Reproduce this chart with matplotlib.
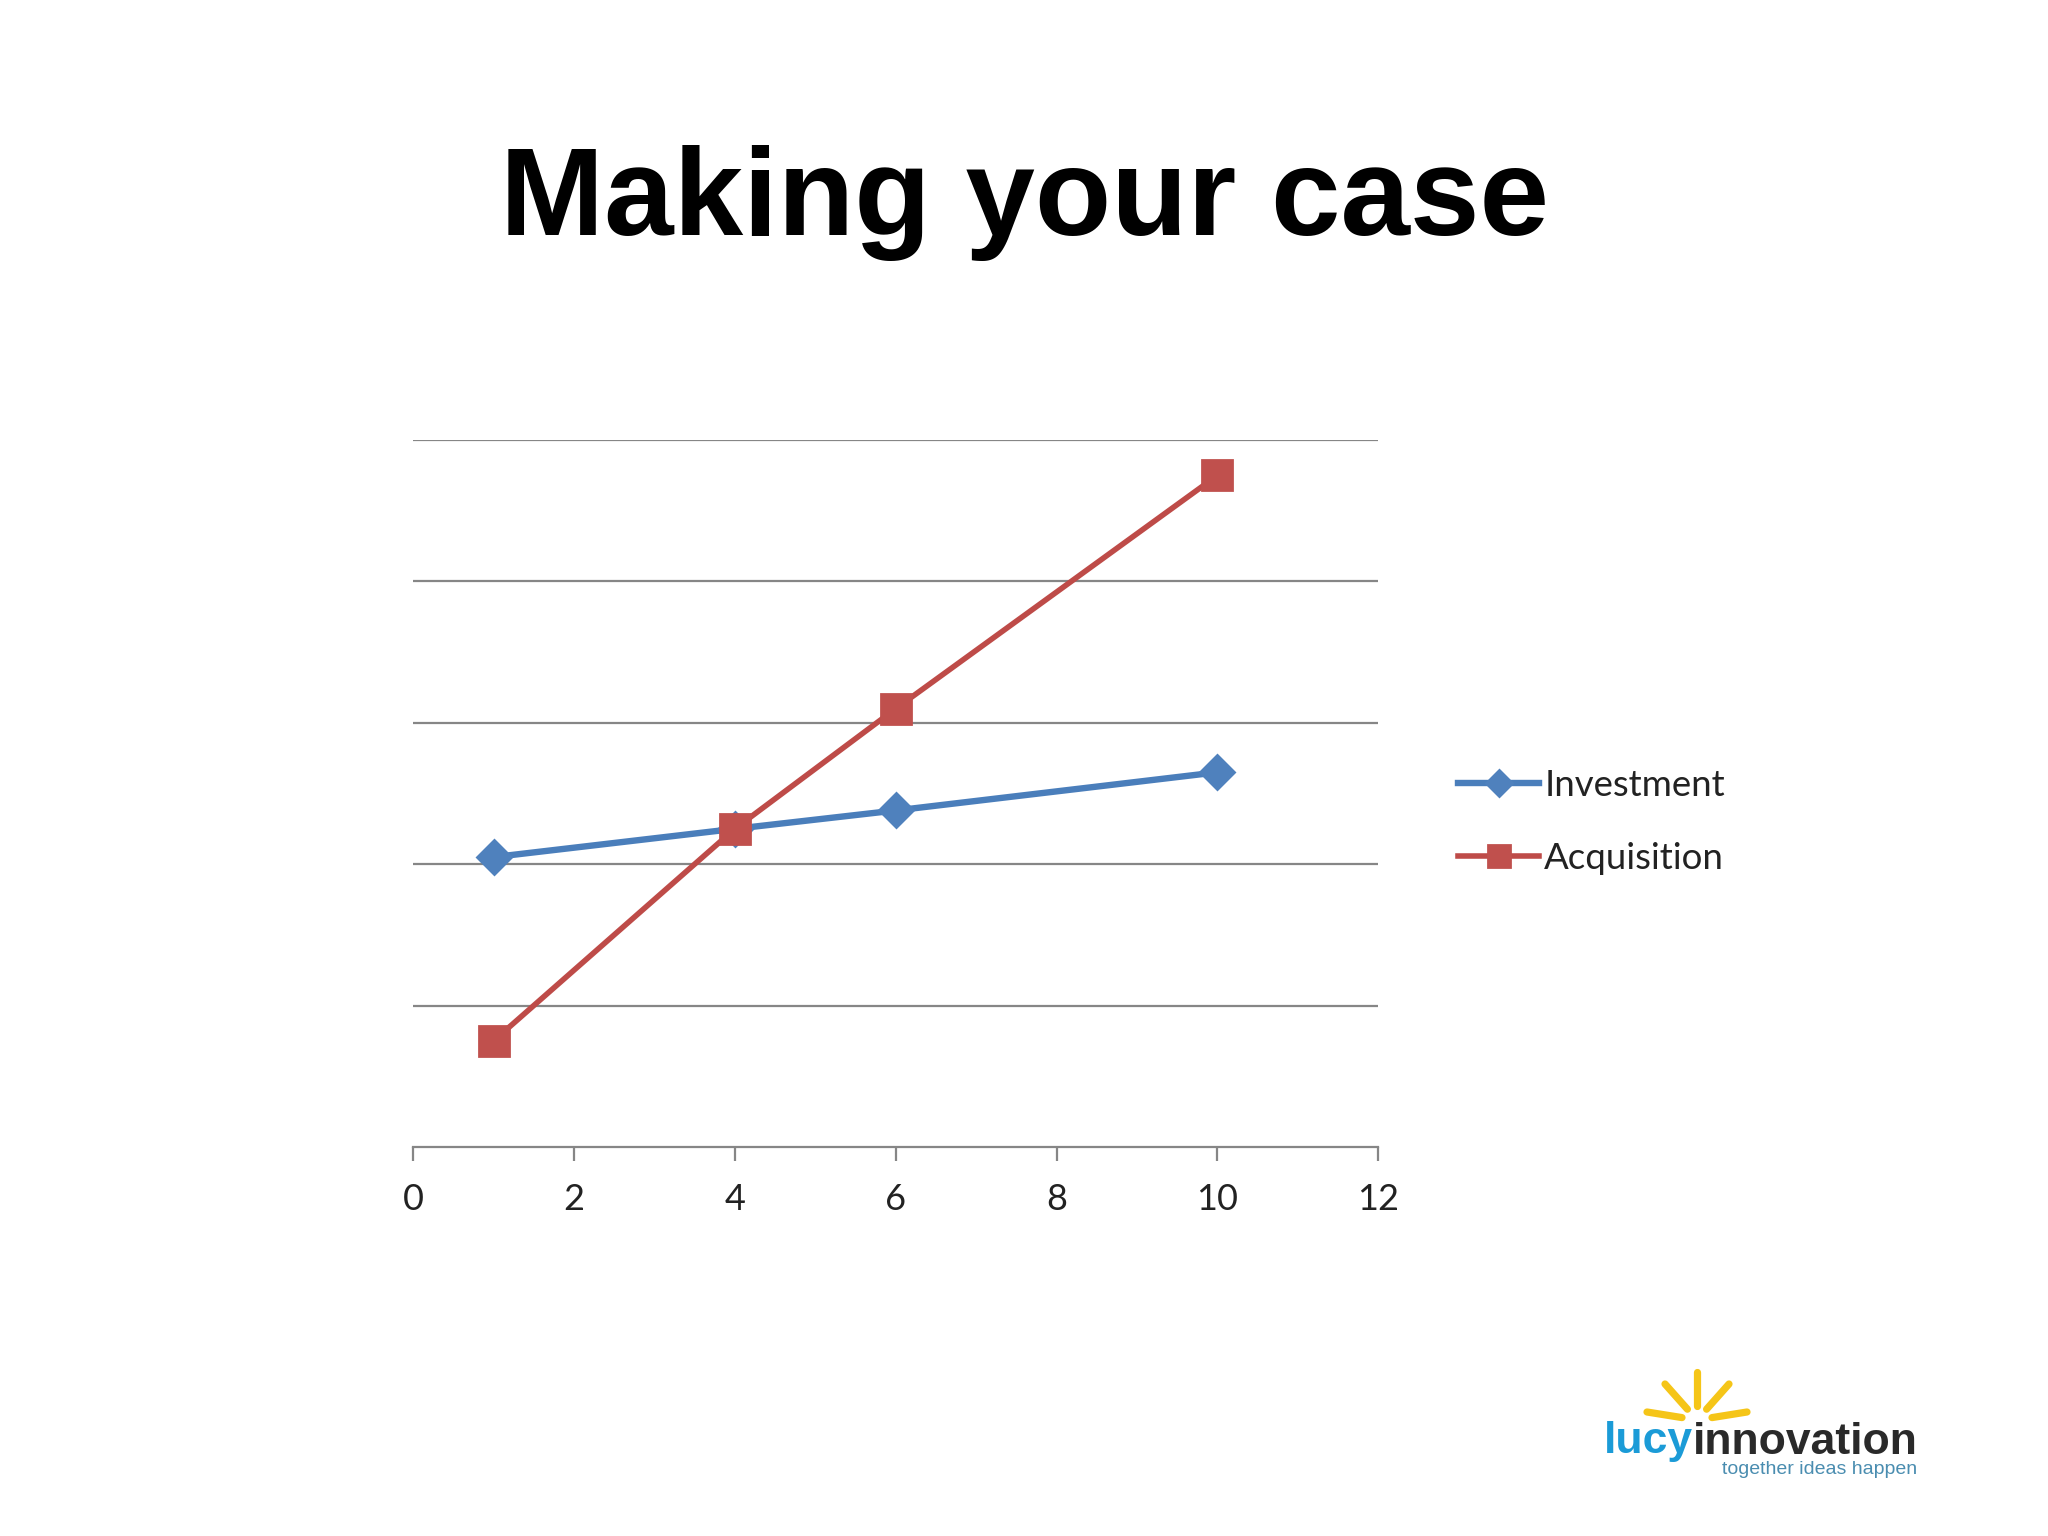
import matplotlib
matplotlib.use('Agg')
import matplotlib.pyplot as plt

# data
x_vals = [1, 4, 6, 10]
investment = [2.05, 2.25, 2.38, 2.65]
acquisition = [0.75, 2.25, 3.1, 4.75]
x_ticks = [0, 2, 4, 6, 8, 10, 12]
y_grid = [1, 2, 3, 4, 5]

title = 'Making your case'
series_names = ['Investment', 'Acquisition']

fig = plt.figure(figsize=(10.24, 7.68), dpi=200)
fig.patch.set_facecolor('white')

ax = fig.add_axes([0.2017, 0.2533, 0.4713, 0.4602])
ax.plot(x_vals, investment, color='#4A7EBB', lw=2.3, marker='D', ms=8.5,
        mfc='#4F81BD', mec='#4F81BD', label=series_names[0], zorder=3)
ax.plot(x_vals, acquisition, color='#BE4B48', lw=2.0, marker='s', ms=10.5,
        mfc='#C0504D', mec='#C0504D', label=series_names[1], zorder=4)

ax.set_xlim(0, 12)
ax.set_ylim(0, 5)
ax.set_xticks(x_ticks)
ax.set_xticklabels([str(t) for t in x_ticks], fontfamily='Lato', fontsize=13, color='#222222')
ax.set_yticks(y_grid)
ax.yaxis.grid(True, color='#868686', lw=0.8)
ax.tick_params(axis='y', left=False, labelleft=False)
ax.tick_params(axis='x', direction='out', length=5, width=0.8, color='#868686', pad=8)
for s in ['top', 'right', 'left']:
    ax.spines[s].set_visible(False)
ax.spines['bottom'].set_color('#868686')
ax.spines['bottom'].set_linewidth(0.8)
ax.set_axisbelow(True)

leg = ax.legend(loc='center left', bbox_to_anchor=(0.712, 0.465), bbox_transform=fig.transFigure,
                frameon=False, borderpad=0, borderaxespad=0, handlelength=2.2,
                handletextpad=0.15, labelspacing=1.08, markerscale=0.75,
                prop={'family': 'Lato', 'size': 13.2})
for t in leg.get_texts():
    t.set_color('#222222')

fig.text(0.5, 0.868, title, ha='center', va='center', fontsize=45, fontweight='bold',
         fontfamily='Liberation Sans', color='black')

# logo in the lower right corner
lg = fig.add_axes([0, 0, 1, 1])
lg.set_xlim(0, 2048)
lg.set_ylim(1536, 0)
lg.axis('off')
cx, cy = 1697, 1420
for dx, dy in [(0, -48), (-32, -36), (32, -36), (-50, -8), (50, -8)]:
    lg.plot([cx + dx * 0.3, cx + dx], [cy + dy * 0.3, cy + dy], color='#F5C518', lw=2.6,
            solid_capstyle='round')
t1 = lg.text(1604, 1442, 'lucy', color='#1B9BD7', fontsize=16, fontweight='bold',
             fontfamily='Liberation Sans', va='center', ha='left')
fig.canvas.draw()
bb = t1.get_window_extent().transformed(lg.transData.inverted())
lg.text(bb.x1, 1442, 'innovation', color='#2a2a2a', fontsize=16, fontweight='bold',
        fontfamily='Liberation Sans', va='center', ha='left')
lg.text(1917, 1469, 'together ideas happen', color='#4a8db0', fontsize=7,
        fontfamily='Liberation Sans', va='center', ha='right')

fig.savefig('out.png', dpi=200, facecolor='white')
